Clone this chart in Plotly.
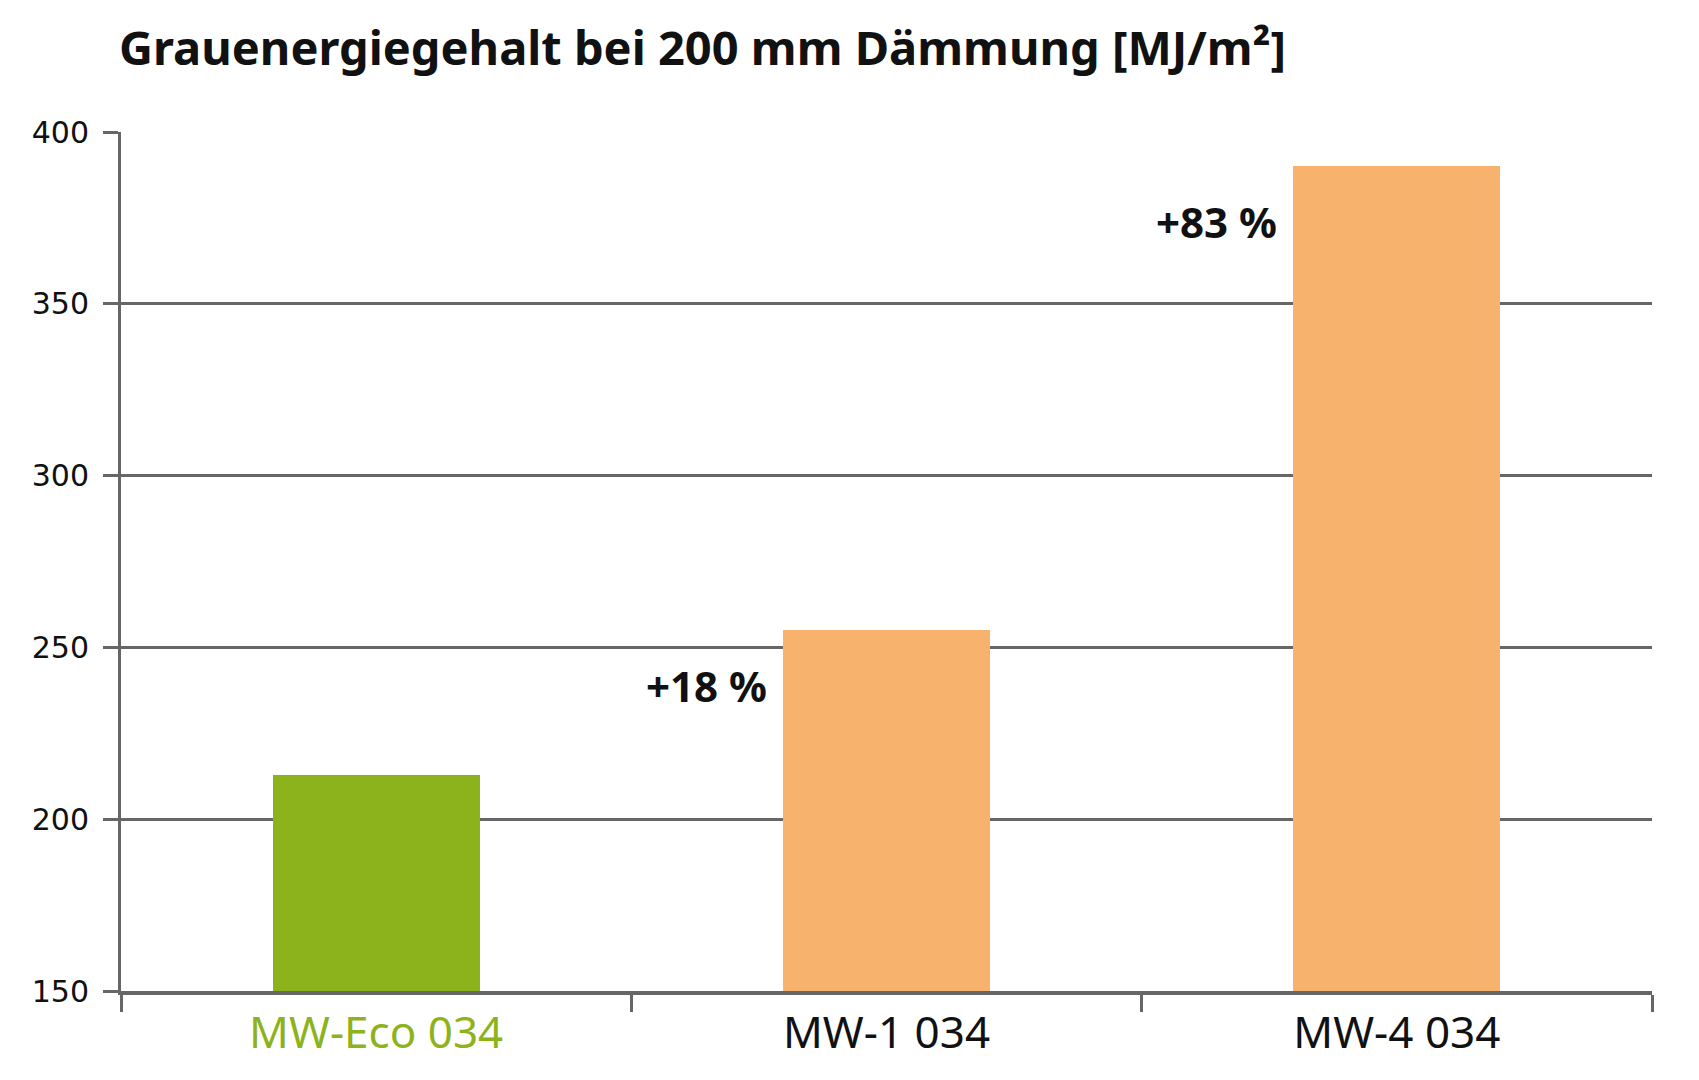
import plotly.graph_objects as go

categories = ["MW-Eco 034", "MW-1 034", "MW-4 034"]
values = [213, 255, 390]
bar_colors = ["#8CB31C", "#F7B26E", "#F7B26E"]
label_colors = ["#8CB31C", "#111111", "#111111"]
pct_labels = ["", "+18 %", "+83 %"]
pct_y = [None, 239, 374]
y_ticks = [150, 200, 250, 300, 350, 400]
title = "Grauenergiegehalt bei 200 mm Dämmung [MJ/m²]"

bar_w = 0.405

fig = go.Figure()
fig.add_trace(go.Bar(
    x=categories, y=values, width=bar_w, marker=dict(color=bar_colors, line=dict(width=0)),
    showlegend=False, hoverinfo="skip",
))

ticktext = [f"<span style='color:{c}'>{t}</span>" for t, c in zip(categories, label_colors)]

for i, (t, yv) in enumerate(zip(pct_labels, pct_y)):
    if t:
        fig.add_annotation(x=i - bar_w / 2, y=yv, text=f"<b>{t}</b>", showarrow=False,
                           xanchor="right", yanchor="middle", xshift=-14,
                           font=dict(size=42, color="#111111", family="Noto Sans"))

fig.update_layout(
    width=1699, height=1080,
    margin=dict(l=121, r=47, t=132, b=89),
    paper_bgcolor="white", plot_bgcolor="white",
    title=dict(text=f"<b>{title}</b>", x=119 / 1699, xref="container", xanchor="left",
               y=1 - 49 / 1080, yref="container", yanchor="middle",
               font=dict(size=47, color="#111111", family="Noto Sans")),
    bargap=0,
    font=dict(family="Noto Sans", color="#111111"),
)
fig.update_xaxes(
    type="category", range=[-0.5, 2.5], tickvals=categories, ticktext=ticktext,
    tickson="boundaries", ticks="outside", ticklen=17, tickwidth=3, tickcolor="#666666",
    showline=True, linecolor="#666666", linewidth=4, showgrid=False, zeroline=False,
    tickfont=dict(size=44, family="Noto Sans"), ticklabelstandoff=0,
)
fig.update_yaxes(
    range=[150, 400], tickvals=y_ticks, ticks="outside", ticklen=15, tickwidth=3,
    tickcolor="#666666", showline=True, linecolor="#666666", linewidth=3,
    showgrid=True, gridcolor="#666666", gridwidth=3, zeroline=False,
    tickfont=dict(size=30, family="DejaVu Sans"), ticklabelstandoff=8,
)

fig.write_html("out.html")
